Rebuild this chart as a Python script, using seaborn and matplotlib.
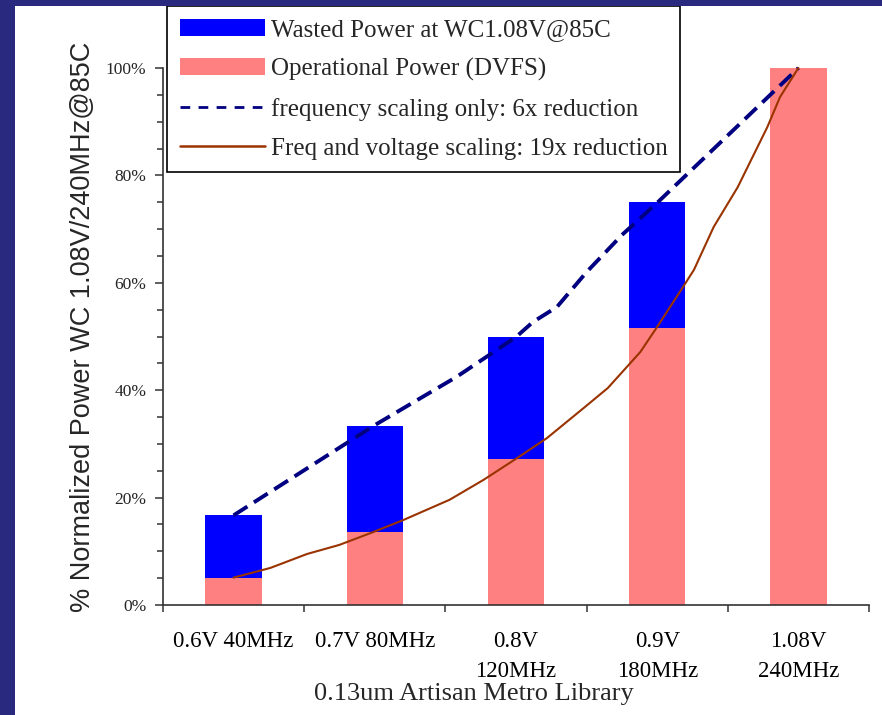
import matplotlib
matplotlib.use("Agg")
import matplotlib.pyplot as plt
import numpy as np
import pandas as pd
import seaborn as sns
from matplotlib.patches import Patch, Rectangle
from matplotlib.lines import Line2D
from matplotlib.ticker import FixedLocator, MultipleLocator, FuncFormatter

# ---- data -------------------------------------------------------------
categories = ["0.6V 40MHz", "0.7V 80MHz", "0.8V\n120MHz", "0.9V\n180MHz", "1.08V\n240MHz"]
operational_power = [5.1, 13.6, 27.1, 51.6, 100.0]   # DVFS power, % of WC 1.08V/240MHz
wasted_power = [11.6, 19.7, 22.9, 23.4, 0.0]         # extra power when run at WC 1.08V

freq_only_x = [0, 1, 1.58, 2, 2.12, 2.29, 2.5, 2.75, 3, 4]
freq_only_y = [16.7, 33.5, 42.5, 49.9, 52.7, 55.5, 62.0, 68.9, 74.9, 100.0]

dvfs_x = [0, 0.26, 0.52, 0.75, 0.99, 1.2, 1.53, 1.77, 2.01, 2.22, 2.48,
          2.65, 2.88, 3.0, 3.17, 3.26, 3.4, 3.57, 3.78, 3.87, 4.0]
dvfs_y = [5.1, 6.9, 9.5, 11.2, 13.6, 15.8, 19.6, 23.3, 27.4, 31.1, 36.7,
          40.4, 47.1, 51.8, 58.7, 62.4, 70.4, 77.8, 89.0, 94.6, 100.0]

legend_labels = ["Wasted Power at WC1.08V@85C",
                 "Operational Power (DVFS)",
                 "frequency scaling only: 6x reduction",
                 "Freq and voltage scaling: 19x reduction"]

# ---- style ------------------------------------------------------------
sns.set_theme(style="white")
SERIF = ["Liberation Serif", "DejaVu Serif"]
SANS = ["Liberation Sans", "DejaVu Sans"]
plt.rcParams["font.family"] = SERIF

BLUE = "#0000FF"
PINK = "#FF8080"
NAVY = "#000080"
BROWN = "#993300"
FRAME = "#29297F"

W, H = 882, 715
fig = plt.figure(figsize=(W / 100, H / 100), dpi=100)
fig.patch.set_facecolor("white")
ax = fig.add_axes([163 / W, 1 - 605 / H, 706 / W, 537 / H])
ax.set_facecolor("white")

bars = pd.DataFrame({
    "config": categories,
    "operational": operational_power,
    "total": np.add(operational_power, wasted_power),
})

# stacked bars: full height in blue, operational share drawn over it in pink
sns.barplot(data=bars, x="config", y="total", order=categories, color=BLUE,
            saturation=1, width=0.4, linewidth=0, ax=ax)
sns.barplot(data=bars, x="config", y="operational", order=categories, color=PINK,
            saturation=1, width=0.4, linewidth=0, ax=ax)

lines_f = pd.DataFrame({"x": freq_only_x, "y": freq_only_y})
lines_v = pd.DataFrame({"x": dvfs_x, "y": dvfs_y})
sns.lineplot(data=lines_f, x="x", y="y", color=NAVY, lw=2.8, ax=ax,
             linestyle=(0, (4.2, 2.0)), clip_on=False, zorder=4)
sns.lineplot(data=lines_v, x="x", y="y", color=BROWN, lw=1.5, ax=ax,
             clip_on=False, zorder=4)

for p in ax.patches:
    p.set_clip_on(False)

ax.set_xlim(-0.5, 4.5)
ax.set_ylim(0, 100)
ax.set_xlabel("")
ax.set_ylabel("")

# axes, ticks
for s in ["top", "right"]:
    ax.spines[s].set_visible(False)
for s in ["left", "bottom"]:
    ax.spines[s].set_color("#333333")
    ax.spines[s].set_linewidth(1.2)

ax.xaxis.set_major_locator(FixedLocator(range(len(categories))))
ax.set_xticklabels(categories, fontsize=16.5, family=SERIF, linespacing=1.55)
ax.xaxis.set_minor_locator(FixedLocator(np.arange(-0.5, len(categories), 1.0)))
ax.tick_params(axis="x", which="major", length=0, pad=19, colors="black")
ax.tick_params(axis="x", which="minor", length=5, width=1.1, color="#333333",
               direction="out", bottom=True)

ax.yaxis.set_major_locator(MultipleLocator(20))
ax.yaxis.set_minor_locator(MultipleLocator(5))
ax.yaxis.set_major_formatter(FuncFormatter(lambda v, _: f"{v:.0f}%"))
ax.tick_params(axis="y", which="major", length=6, width=1.1, color="#333333",
               direction="out", left=True, labelsize=12.5, pad=6)
ax.tick_params(axis="y", which="minor", length=4, width=1.1, color="#333333",
               direction="out", left=True)
for t in ax.get_yticklabels():
    t.set_family(SERIF)

# axis titles
fig.text(83 / W, 1 - 327 / H, "% Normalized Power WC 1.08V/240MHz@85C",
         rotation=90, ha="center", va="center", fontsize=19.5, family=SANS)
fig.text(474 / W, 1 - 694 / H, "0.13um Artisan Metro Library",
         ha="center", va="center", fontsize=19, family=SERIF)

# legend
handles = [
    Patch(facecolor=BLUE, edgecolor="none"),
    Patch(facecolor=PINK, edgecolor="none"),
    Line2D([], [], color=NAVY, lw=2.0, linestyle=(0, (3.5, 3.0))),
    Line2D([], [], color=BROWN, lw=1.8),
]
leg = ax.legend(handles, legend_labels, loc="upper left",
                bbox_to_anchor=(167 / W, 1 - 6 / H), bbox_transform=fig.transFigure,
                prop={"family": SERIF, "size": 18}, frameon=True, fancybox=False,
                framealpha=1, edgecolor="black", borderpad=0.5,
                handlelength=3.4, handleheight=0.7, handletextpad=0.25,
                labelspacing=0.67, borderaxespad=0)
leg.get_frame().set_linewidth(1.2)
leg.set_zorder(10)

# slide background strips
fig.add_artist(Rectangle((0, 1 - 6 / H), 1, 6 / H, transform=fig.transFigure,
                         facecolor=FRAME, edgecolor="none", zorder=20))
fig.add_artist(Rectangle((0, 0), 15 / W, 1, transform=fig.transFigure,
                         facecolor=FRAME, edgecolor="none", zorder=20))

fig.savefig("out.png", dpi=100)
